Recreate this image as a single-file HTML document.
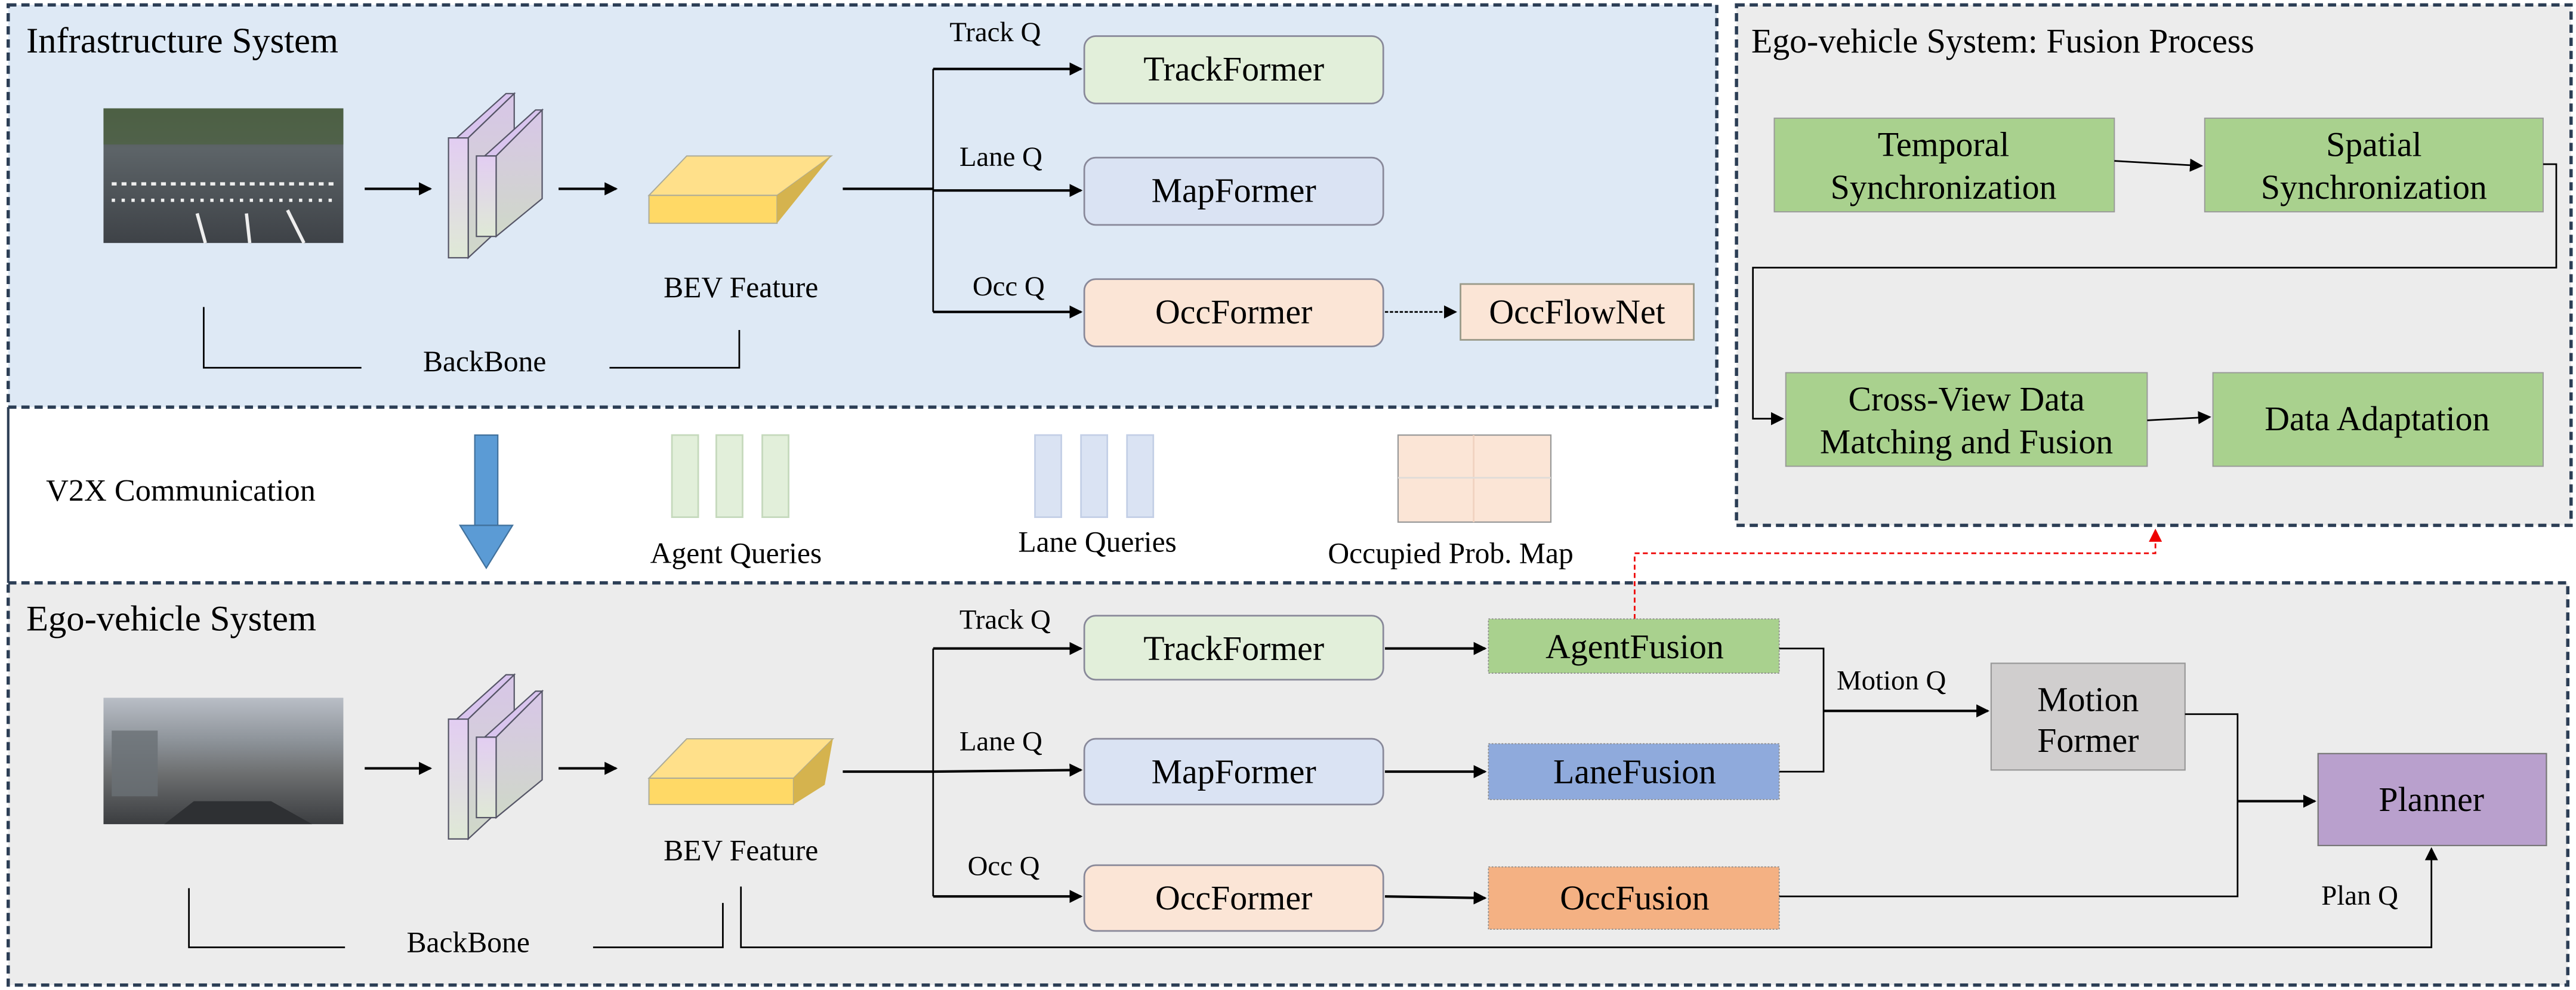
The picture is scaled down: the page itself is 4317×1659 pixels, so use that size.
<!DOCTYPE html>
<html><head><meta charset="utf-8"><style>
html,body{margin:0;padding:0;background:#fff;}
svg{display:block;}
</style></head><body>
<svg width="4317" height="1659" viewBox="0 0 1568 603" preserveAspectRatio="none" xmlns="http://www.w3.org/2000/svg" font-family="'Liberation Serif', 'Times New Roman', serif">
<defs>
<marker id="ah" markerWidth="8" markerHeight="8" refX="7" refY="4" orient="auto" markerUnits="userSpaceOnUse"><path d="M0,0 L8,4 L0,8 z" fill="#000"/></marker>
<marker id="ahr" markerWidth="8" markerHeight="8" refX="7" refY="4" orient="auto" markerUnits="userSpaceOnUse"><path d="M0,0 L8,4 L0,8 z" fill="#e00"/></marker>
<linearGradient id="road" x1="0" y1="0" x2="0" y2="1"><stop offset="0" stop-color="#4a5a45"/><stop offset="0.3" stop-color="#5d6468"/><stop offset="1" stop-color="#3e4247"/></linearGradient>
<linearGradient id="ego" x1="0" y1="0" x2="0" y2="1"><stop offset="0" stop-color="#b9bec6"/><stop offset="0.35" stop-color="#8c9298"/><stop offset="0.6" stop-color="#6d6f70"/><stop offset="1" stop-color="#3b3d40"/></linearGradient>
<linearGradient id="pl" x1="0" y1="0" x2="0" y2="1"><stop offset="0" stop-color="#e2cdf2"/><stop offset="1" stop-color="#dfe9d6"/></linearGradient>
<linearGradient id="pl2" x1="0" y1="0" x2="0" y2="1"><stop offset="0" stop-color="#d8c6e8"/><stop offset="1" stop-color="#cfd8c8"/></linearGradient>
<g id="slabs" stroke="#556" stroke-width="0.8">
<polygon points="278,438 308,411 313,411 285,438" fill="#d9c4ee"/>
<polygon points="285,438 313,411 313,485 285,511" fill="url(#pl2)"/>
<rect x="273" y="438" width="12" height="73" fill="url(#pl)"/>
<polygon points="295,449 326,421 330,421 302,449" fill="#d9c4ee"/>
<polygon points="302,449 330,421 330,475 302,498" fill="url(#pl2)"/>
<rect x="290" y="449" width="12" height="49" fill="url(#pl)"/>
</g>
</defs>
<!-- panels -->
<rect x="5" y="3" width="1040" height="245" fill="#dee9f5" stroke="#2c3e55" stroke-width="2" stroke-dasharray="5,3"/>
<rect x="1057" y="3" width="508" height="317" fill="#ececec" stroke="#2c3e55" stroke-width="2" stroke-dasharray="5,3"/>
<rect x="5" y="355" width="1558" height="245" fill="#ececec" stroke="#2c3e55" stroke-width="2" stroke-dasharray="5,3"/>
<line x1="5" y1="248" x2="5" y2="355" stroke="#2c3e55" stroke-width="1.5"/>

<!-- Infrastructure -->
<text x="16" y="32" font-size="22">Infrastructure System</text>
<rect x="63" y="66" width="146" height="82" fill="url(#road)"/>
<rect x="63" y="66" width="146" height="22" fill="#4d6244" opacity="0.8"/>
<g stroke="#eee" stroke-width="2"><line x1="68" y1="112" x2="205" y2="112" stroke-dasharray="3,3"/><line x1="68" y1="122" x2="205" y2="122" stroke-dasharray="2,4"/><line x1="120" y1="130" x2="125" y2="148"/><line x1="150" y1="130" x2="152" y2="148"/><line x1="175" y1="128" x2="185" y2="148"/></g>
<line x1="222" y1="115" x2="262" y2="115" stroke="#000" stroke-width="1.5" marker-end="url(#ah)"/>
<use href="#slabs" transform="translate(0,-354)"/>
<line x1="340" y1="115" x2="375" y2="115" stroke="#000" stroke-width="1.5" marker-end="url(#ah)"/>
<polygon points="395,119 418,95 506,95 473,119" fill="#ffe08a" stroke="#aa9" stroke-width="0.7"/>
<rect x="395" y="119" width="78" height="17" fill="#ffd966" stroke="#aa9" stroke-width="0.7"/>
<polygon points="473,119 506,95 473,136" fill="#d5b34e"/>
<text x="451" y="181" font-size="18" text-anchor="middle">BEV Feature</text>
<polyline points="124,187 124,224 220,224" fill="none" stroke="#000" stroke-width="1"/>
<text x="295" y="226" font-size="18" text-anchor="middle">BackBone</text>
<polyline points="371,224 450,224 450,201" fill="none" stroke="#000" stroke-width="1"/>
<line x1="513" y1="115" x2="568" y2="115" stroke="#000" stroke-width="1.5"/>
<line x1="568" y1="42" x2="568" y2="190" stroke="#000" stroke-width="1"/>
<line x1="568" y1="42" x2="658" y2="42" stroke="#000" stroke-width="1.5" marker-end="url(#ah)"/>
<line x1="568" y1="116" x2="658" y2="116" stroke="#000" stroke-width="1.5" marker-end="url(#ah)"/>
<line x1="568" y1="190" x2="658" y2="190" stroke="#000" stroke-width="1.5" marker-end="url(#ah)"/>
<text x="578" y="25" font-size="17">Track Q</text>
<text x="584" y="101" font-size="17">Lane Q</text>
<text x="592" y="180" font-size="17">Occ Q</text>
<rect x="660" y="22" width="182" height="41" rx="7" fill="#e2efda" stroke="#889" stroke-width="1"/>
<text x="751" y="49" font-size="21" text-anchor="middle">TrackFormer</text>
<rect x="660" y="96" width="182" height="41" rx="7" fill="#dae3f3" stroke="#889" stroke-width="1"/>
<text x="751" y="123" font-size="21" text-anchor="middle">MapFormer</text>
<rect x="660" y="170" width="182" height="41" rx="7" fill="#fbe5d6" stroke="#889" stroke-width="1"/>
<text x="751" y="197" font-size="21" text-anchor="middle">OccFormer</text>
<line x1="843" y1="190" x2="886" y2="190" stroke="#000" stroke-width="1" stroke-dasharray="2,1" marker-end="url(#ah)"/>
<rect x="889" y="173" width="142" height="34" fill="#fbe5d6" stroke="#998" stroke-width="1"/>
<text x="960" y="197" font-size="21" text-anchor="middle">OccFlowNet</text>

<!-- Fusion process -->
<text x="1066" y="32" font-size="21">Ego-vehicle System: Fusion Process</text>
<rect x="1080" y="72" width="207" height="57" fill="#a9d18e" stroke="#999" stroke-width="0.7"/>
<text x="1183" y="95" font-size="21" text-anchor="middle">Temporal</text>
<text x="1183" y="121" font-size="21" text-anchor="middle">Synchronization</text>
<rect x="1342" y="72" width="206" height="57" fill="#a9d18e" stroke="#999" stroke-width="0.7"/>
<text x="1445" y="95" font-size="21" text-anchor="middle">Spatial</text>
<text x="1445" y="121" font-size="21" text-anchor="middle">Synchronization</text>
<line x1="1287" y1="98" x2="1340" y2="101" stroke="#000" stroke-width="1" marker-end="url(#ah)"/>
<polyline points="1548,100 1556,100 1556,163 1067,163 1067,255 1085,255" fill="none" stroke="#000" stroke-width="1" marker-end="url(#ah)"/>
<rect x="1087" y="227" width="220" height="57" fill="#a9d18e" stroke="#999" stroke-width="0.7"/>
<text x="1197" y="250" font-size="21" text-anchor="middle">Cross-View Data</text>
<text x="1197" y="276" font-size="21" text-anchor="middle">Matching and Fusion</text>
<rect x="1347" y="227" width="201" height="57" fill="#a9d18e" stroke="#999" stroke-width="0.7"/>
<text x="1447" y="262" font-size="21" text-anchor="middle">Data Adaptation</text>
<line x1="1307" y1="256" x2="1345" y2="254" stroke="#000" stroke-width="1" marker-end="url(#ah)"/>

<!-- V2X -->
<text x="28" y="305" font-size="19">V2X Communication</text>
<rect x="289" y="265" width="14" height="55" fill="#5b9bd5" stroke="#41719c" stroke-width="0.8"/>
<polygon points="280,320 312,320 296,346" fill="#5b9bd5" stroke="#41719c" stroke-width="0.8"/>
<g fill="#e2efda" stroke="#c5d9bc" stroke-width="1"><rect x="409" y="265" width="16" height="50"/><rect x="436" y="265" width="16" height="50"/><rect x="464" y="265" width="16" height="50"/></g>
<text x="448" y="343" font-size="18" text-anchor="middle">Agent Queries</text>
<g fill="#dae3f3" stroke="#c3cfe6" stroke-width="1"><rect x="630" y="265" width="16" height="50"/><rect x="658" y="265" width="16" height="50"/><rect x="686" y="265" width="16" height="50"/></g>
<text x="668" y="336" font-size="18" text-anchor="middle">Lane Queries</text>
<rect x="851" y="265" width="93" height="53" fill="#fbe5d6" stroke="#999" stroke-width="0.8"/>
<line x1="897" y1="265" x2="897" y2="318" stroke="#f0d2c0" stroke-width="1"/>
<line x1="851" y1="291" x2="944" y2="291" stroke="#e0dcd8" stroke-width="1"/>
<text x="883" y="343" font-size="18" text-anchor="middle">Occupied Prob. Map</text>
<polyline points="995,377 995,337 1312,337 1312,323" fill="none" stroke="#e00" stroke-width="1" stroke-dasharray="3,2" marker-end="url(#ahr)"/>

<!-- Ego-vehicle -->
<text x="16" y="384" font-size="22">Ego-vehicle System</text>
<rect x="63" y="425" width="146" height="77" fill="url(#ego)"/>
<rect x="68" y="445" width="28" height="40" fill="#6a7075" opacity="0.8"/>
<path d="M100,502 L118,488 L165,488 L190,502 z" fill="#2e3033"/>
<line x1="222" y1="468" x2="262" y2="468" stroke="#000" stroke-width="1.5" marker-end="url(#ah)"/>
<use href="#slabs"/>
<line x1="340" y1="468" x2="375" y2="468" stroke="#000" stroke-width="1.5" marker-end="url(#ah)"/>
<polygon points="395,474 418,450 507,450 483,474" fill="#ffe08a" stroke="#aa9" stroke-width="0.7"/>
<rect x="395" y="474" width="88" height="16" fill="#ffd966" stroke="#aa9" stroke-width="0.7"/>
<polygon points="483,474 507,450 502,478 483,490" fill="#d5b34e"/>
<text x="451" y="524" font-size="18" text-anchor="middle">BEV Feature</text>
<polyline points="115,541 115,577 210,577" fill="none" stroke="#000" stroke-width="1"/>
<text x="285" y="580" font-size="18" text-anchor="middle">BackBone</text>
<polyline points="361,577 440,577 440,550" fill="none" stroke="#000" stroke-width="1"/>
<polyline points="451,540 451,577 1480,577 1480,517" fill="none" stroke="#000" stroke-width="1" marker-end="url(#ah)"/>
<line x1="513" y1="470" x2="568" y2="470" stroke="#000" stroke-width="1.5"/>
<line x1="568" y1="395" x2="568" y2="546" stroke="#000" stroke-width="1"/>
<line x1="568" y1="395" x2="658" y2="395" stroke="#000" stroke-width="1.5" marker-end="url(#ah)"/>
<line x1="568" y1="470" x2="658" y2="469" stroke="#000" stroke-width="1.5" marker-end="url(#ah)"/>
<line x1="568" y1="546" x2="658" y2="546" stroke="#000" stroke-width="1.5" marker-end="url(#ah)"/>
<text x="584" y="383" font-size="17">Track Q</text>
<text x="584" y="457" font-size="17">Lane Q</text>
<text x="589" y="533" font-size="17">Occ Q</text>
<rect x="660" y="375" width="182" height="39" rx="7" fill="#e2efda" stroke="#889" stroke-width="1"/>
<text x="751" y="402" font-size="21" text-anchor="middle">TrackFormer</text>
<rect x="660" y="450" width="182" height="40" rx="7" fill="#dae3f3" stroke="#889" stroke-width="1"/>
<text x="751" y="477" font-size="21" text-anchor="middle">MapFormer</text>
<rect x="660" y="527" width="182" height="40" rx="7" fill="#fbe5d6" stroke="#889" stroke-width="1"/>
<text x="751" y="554" font-size="21" text-anchor="middle">OccFormer</text>
<line x1="843" y1="395" x2="904" y2="395" stroke="#000" stroke-width="1.5" marker-end="url(#ah)"/>
<line x1="843" y1="470" x2="904" y2="470" stroke="#000" stroke-width="1.5" marker-end="url(#ah)"/>
<line x1="843" y1="546" x2="904" y2="547" stroke="#000" stroke-width="1.5" marker-end="url(#ah)"/>
<rect x="906" y="377" width="177" height="33" fill="#a9d18e" stroke="#888" stroke-width="0.6" stroke-dasharray="1,1"/>
<text x="995" y="401" font-size="21" text-anchor="middle">AgentFusion</text>
<rect x="906" y="453" width="177" height="34" fill="#8faadc" stroke="#888" stroke-width="0.6" stroke-dasharray="1,1"/>
<text x="995" y="477" font-size="21" text-anchor="middle">LaneFusion</text>
<rect x="906" y="528" width="177" height="38" fill="#f4b183" stroke="#888" stroke-width="0.6" stroke-dasharray="1,1"/>
<text x="995" y="554" font-size="21" text-anchor="middle">OccFusion</text>
<polyline points="1083,395 1110,395 1110,470 1083,470" fill="none" stroke="#000" stroke-width="1"/>
<line x1="1110" y1="433" x2="1210" y2="433" stroke="#000" stroke-width="1.5" marker-end="url(#ah)"/>
<text x="1118" y="420" font-size="17">Motion Q</text>
<rect x="1212" y="404" width="118" height="65" fill="#d0cece" stroke="#999" stroke-width="0.8"/>
<text x="1271" y="433" font-size="21" text-anchor="middle">Motion</text>
<text x="1271" y="458" font-size="21" text-anchor="middle">Former</text>
<polyline points="1330,435 1362,435 1362,546 1083,546" fill="none" stroke="#000" stroke-width="1"/>
<line x1="1362" y1="488" x2="1409" y2="488" stroke="#000" stroke-width="1.5" marker-end="url(#ah)"/>
<rect x="1411" y="459" width="139" height="56" fill="#b9a0cd" stroke="#777" stroke-width="0.8"/>
<text x="1480" y="494" font-size="21" text-anchor="middle">Planner</text>
<text x="1413" y="551" font-size="17">Plan Q</text>
</svg>
</body></html>
